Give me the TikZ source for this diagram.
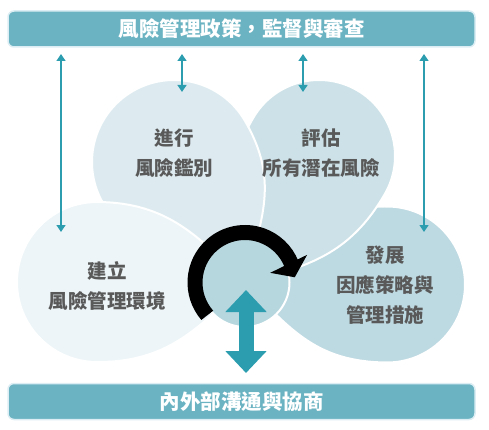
\documentclass[tikz,border=0pt]{standalone}
\usepackage{fontspec}
\setmainfont{Noto Sans CJK TC}
\usetikzlibrary{positioning,arrows.meta}

\definecolor{barteal}{HTML}{6BB3C2}
\definecolor{barglow}{HTML}{DCEEF3}
\definecolor{linkteal}{HTML}{2B9DAE}
\definecolor{textgrey}{HTML}{595959}
\definecolor{petalA}{HTML}{EDF5F8}
\definecolor{petalB}{HTML}{DDEBF0}
\definecolor{petalC}{HTML}{CCE2E8}
\definecolor{petalD}{HTML}{BDD9E1}
\definecolor{hubfill}{HTML}{B7D7DF}

% teardrop: colour, x, y of round end, angle to the tip, tip distance, radius
\newcommand{\drawpetal}[6]{%
  \begin{scope}[shift={(#2,#3)},rotate=#4]
    \filldraw[petal,fill=#1] (#5,0) .. controls (#5-46,46) and (70,#6) .. (0,#6)
      arc[start angle=90,end angle=270,radius=#6]
      .. controls (70,-#6) and (#5-46,-46) .. cycle;
  \end{scope}}

\begin{document}
\begin{tikzpicture}
   [x=1pt,y=1pt,every node/.style={draw=none,inner sep = 0pt},
    bar/.style={fill=barteal,draw=barglow,line width=1.5pt,rounded corners=6pt,
      minimum width=467pt,minimum height=36pt,text=white,
      font=\fontsize{20.5}{24}\selectfont\bfseries},
    petal/.style={draw=white,line width=2pt},
    petaltext/.style={align=center,text=textgrey,
      font=\fontsize{19.5}{30}\selectfont\bfseries},
    link/.style={draw=linkteal,line width=1.3pt,<->,>={Triangle[width=9pt,length=7pt]}},
    bigarrow/.style={draw=linkteal,fill=linkteal,line width=15pt,
      {Triangle[width=40pt,length=22pt]}-{Triangle[width=40pt,length=22pt]}}]

\useasboundingbox (0,0) rectangle (489,429);

%%%%%%%%%%%%%%%%%%%%%%%%%%%%%%%%%%%%%%%%%%%%%%%%%%%%%%%%%%%%%%%
% Bars
%%%%%%%%%%%%%%%%%%%%%%%%%%%%%%%%%%%%%%%%%%%%%%%%%%%%%%%%%%%%%%%

\node[bar](policy) at (241.5,400) {風險管理政策，監督與審查};
\node[bar](talk) at (241.5,27.5) {內外部溝通與協商};

%%%%%%%%%%%%%%%%%%%%%%%%%%%%%%%%%%%%%%%%%%%%%%%%%%%%%%%%%%%%%%%
% Petals (back to front)
%%%%%%%%%%%%%%%%%%%%%%%%%%%%%%%%%%%%%%%%%%%%%%%%%%%%%%%%%%%%%%%

\drawpetal{petalD}{387}{144.5}{179.4}{142}{78}
\drawpetal{petalC}{319}{273}{-120.2}{147}{76}
\drawpetal{petalB}{174}{267}{-59.6}{140}{82}
\drawpetal{petalA}{97}{147}{-0.4}{148}{80}

\node[petaltext](identify) at (174,276) {進行\\風險鑑別};
\node[petaltext](assess) at (321,276) {評估\\所有潛在風險};
\node[petaltext](setup) at (107,143.5) {建立\\風險管理環境};
\node[petaltext](respond) at (385,144) {發展\\因應策略與\\管理措施};

%%%%%%%%%%%%%%%%%%%%%%%%%%%%%%%%%%%%%%%%%%%%%%%%%%%%%%%%%%%%%%%
% Hub and cycle arrow
%%%%%%%%%%%%%%%%%%%%%%%%%%%%%%%%%%%%%%%%%%%%%%%%%%%%%%%%%%%%%%%

\node[circle,fill=hubfill,draw=white,line width=2pt,minimum size=89pt](hub) at (245,146.5) {};

\begin{scope}[shift={(hub.center)}]
	\draw[line width=15pt] (221:50) arc[start angle=221,end angle=22,radius=50];
	\fill (24:68) -- (6:50) -- (21:27) -- cycle;
\end{scope}

%%%%%%%%%%%%%%%%%%%%%%%%%%%%%%%%%%%%%%%%%%%%%%%%%%%%%%%%%%%%%%%
% Connecting arrows
%%%%%%%%%%%%%%%%%%%%%%%%%%%%%%%%%%%%%%%%%%%%%%%%%%%%%%%%%%%%%%%

\coordinate (pol_setup) at (61,375);
\coordinate (setup_in) at (61,197);
\coordinate (pol_ident) at (182,375);
\coordinate (ident_in) at (182,337);
\coordinate (pol_assess) at (303,375);
\coordinate (assess_in) at (303,337);
\coordinate (pol_resp) at (424,375);
\coordinate (resp_in) at (424,197);

\draw[link] (pol_setup) -- (setup_in);
\draw[link] (pol_ident) -- (ident_in);
\draw[link] (pol_assess) -- (assess_in);
\draw[link] (pol_resp) -- (resp_in);

\coordinate (hub_in) at (246,139);
\coordinate (talk_out) at (246,56);
\draw[bigarrow] (hub_in) -- (talk_out);

\end{tikzpicture}
\end{document}
